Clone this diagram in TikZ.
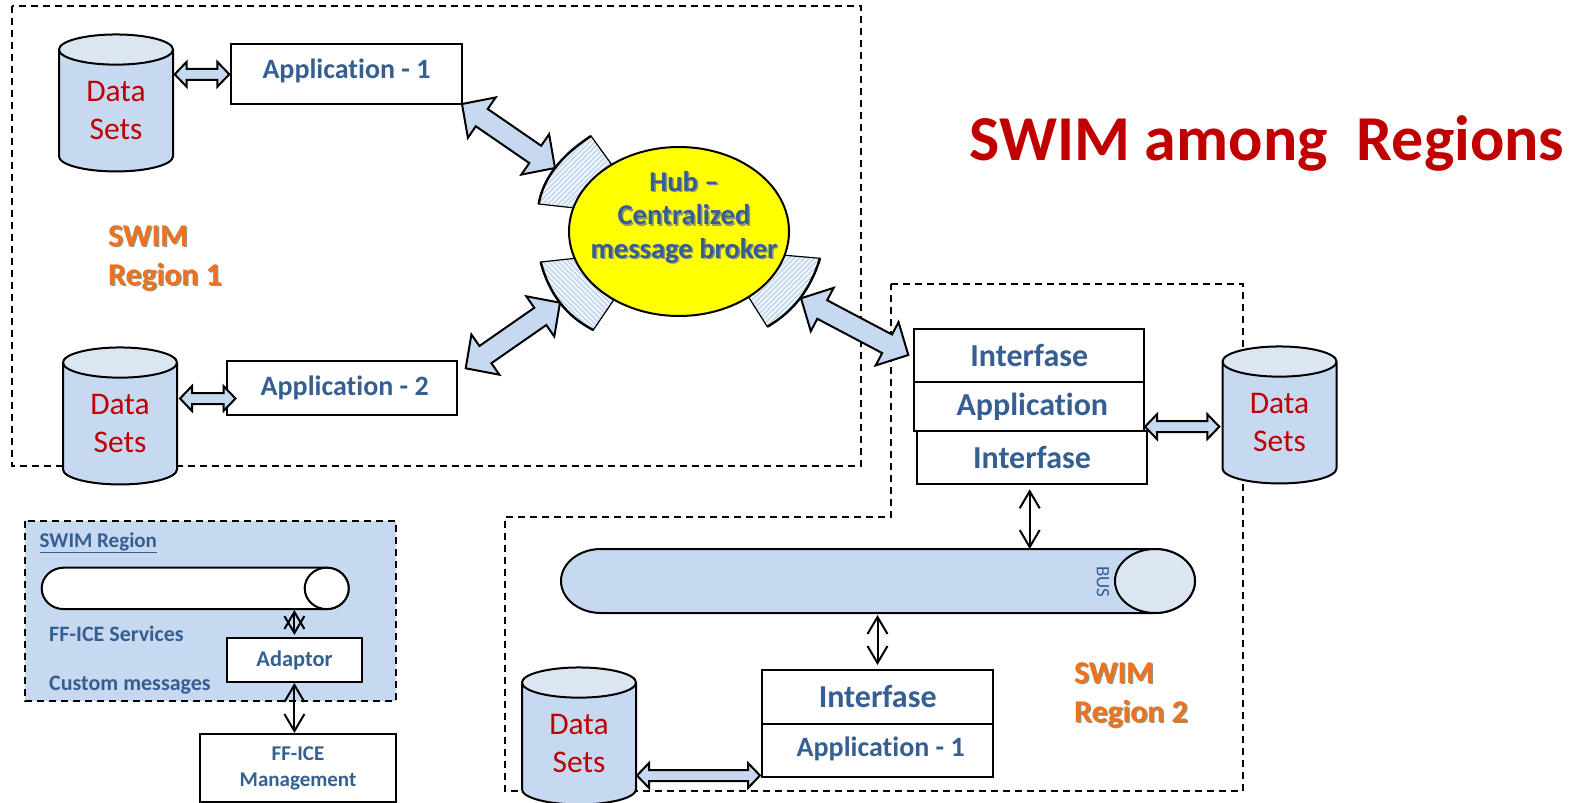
\documentclass[tikz,border=0pt]{standalone}
\usepackage{fontspec}
\setmainfont{Carlito}[Ligatures=NoCommon]
\definecolor{myblue}{RGB}{54,95,145}
\definecolor{myred}{RGB}{192,0,0}
\definecolor{myorange}{RGB}{240,112,30}
\definecolor{myfill}{RGB}{198,217,241}
\definecolor{mycap}{RGB}{220,230,242}
\definecolor{myyellow}{RGB}{255,255,0}
\definecolor{myshadow}{RGB}{150,150,120}
\usetikzlibrary{positioning,calc,shapes.geometric,arrows.meta,patterns.meta}

\begin{document}
\begin{tikzpicture}[x=1pt,y=-1pt,
    datanode/.style={draw,line width=2pt,cylinder,shape border rotate=90,aspect=0.508,
      cylinder uses custom fill,cylinder body fill=myfill,cylinder end fill=mycap,
      minimum width=114,minimum height=137,inner sep=0pt,outer sep=0pt,align=center,
      text=myred,font=\fontsize{31.5}{38}\selectfont},
    capnode/.style={draw,line width=2pt,ellipse,inner sep=0pt,outer sep=0pt},
    boxnode/.style={draw,line width=2pt,fill=white,inner sep=0pt,outer sep=0pt,align=center,
      text=myblue,font=\bfseries\fontsize{28}{32}\selectfont},
    labelnode/.style={inner sep=0pt,text=myblue,font=\bfseries\fontsize{22}{26}\selectfont},
    hubtext/.style={inner sep=0pt,align=center,font=\bfseries\fontsize{28.6}{33.4}\selectfont},
    regiontext/.style={inner sep=0pt,align=left,font=\bfseries\fontsize{31.7}{39}\selectfont},
    regionline/.style={line width=1.6pt,dash pattern=on 7pt off 5pt},
    sector/.style={line width=1.2pt,pattern={Lines[angle=#1,distance=3.6pt,line width=2.1pt]},
      pattern color=myfill},
    thinarrow/.style={line width=2pt,{Straight Barb[length=17pt,width=20pt,line width=2pt]}-{Straight Barb[length=17pt,width=20pt,line width=2pt]}},
    blockarrow/.style n args={3}{draw,line width=2pt,fill=myfill,
      to path={
        -- ($($(\tikztostart)!#3!(\tikztotarget)$)!#2!90:(\tikztotarget)$)
        -- ($($(\tikztostart)!#3!(\tikztotarget)$)!#1!90:(\tikztotarget)$)
        -- ($($(\tikztotarget)!#3!(\tikztostart)$)!#1!-90:(\tikztostart)$)
        -- ($($(\tikztotarget)!#3!(\tikztostart)$)!#2!-90:(\tikztostart)$)
        -- (\tikztotarget)
        -- ($($(\tikztotarget)!#3!(\tikztostart)$)!#2!90:(\tikztostart)$)
        -- ($($(\tikztotarget)!#3!(\tikztostart)$)!#1!90:(\tikztostart)$)
        -- ($($(\tikztostart)!#3!(\tikztotarget)$)!#1!-90:(\tikztotarget)$)
        -- ($($(\tikztostart)!#3!(\tikztotarget)$)!#2!-90:(\tikztotarget)$)
        -- cycle}},
    bigarrow/.style={blockarrow={10.5pt}{24.5pt}{24pt}},
    smallarrow/.style={blockarrow={5.5pt}{12.5pt}{12pt}}
    ]
    \useasboundingbox (0,0) rectangle (1585,803);

    % the regions
    \draw[regionline] (12,6) rectangle (861,466);
    \draw[regionline] (891,284) -- (1243,284) -- (1243,791) -- (505,791) -- (505,517) -- (891,517) -- cycle;
    \draw[regionline,fill=myfill] (25,521) rectangle (396,701);

    % the title
    \node[inner sep=0pt,text=myred,font=\bfseries\fontsize{64}{70}\selectfont] (title) at (1267,143) {SWIM among\ \ Regions};

    % the sectors round the hub
    \draw[sector=45] (538.7,204) .. controls (543,178.7) and (560.4,156) .. (591,136) -- (612,165) -- (575,208) -- cycle;
    \draw[line width=2.4pt] (538.7,204) .. controls (543,178.7) and (560.4,156) .. (591,136);
    \draw[sector=-45] (540.7,262) .. controls (548.9,293.6) and (566.4,316.3) .. (593.3,330) -- (615,298) -- (578,258) -- cycle;
    \draw[line width=2.4pt] (540.7,262) .. controls (548.9,293.6) and (566.4,316.3) .. (593.3,330);
    \draw[sector=45] (820,258.3) .. controls (810.9,288.8) and (793.3,311.7) .. (767.3,326.7) -- (746,293) -- (782,255) -- cycle;
    \draw[line width=2.4pt] (820,258.3) .. controls (810.9,288.8) and (793.3,311.7) .. (767.3,326.7);

    % the hub
    \node[draw,line width=2pt,ellipse,fill=myyellow,minimum width=220,minimum height=169,inner sep=0pt,outer sep=0pt] (hub) at (679,231.5) {};
    \node[hubtext,text=myshadow] (hubshadow) at (685.5,218.5) {Hub --\\Centralized\\message broker};
    \node[hubtext,text=myblue] (hubtext) at (684,217) {Hub --\\Centralized\\message broker};

    % the applications
    \node[boxnode,minimum width=231,minimum height=60] (app1) at (346.5,74) {\raisebox{10pt}{Application - 1}};
    \node[boxnode,minimum width=230,minimum height=54] (app2) at (341.7,388) {\hspace*{6pt}\raisebox{2pt}{Application - 2}};
    \node[boxnode,minimum width=230,minimum height=53,font=\bfseries\fontsize{32}{36}\selectfont] (int1) at (1029.3,355.5) {Interfase};
    \node[boxnode,minimum width=230,minimum height=49,font=\bfseries\fontsize{32}{36}\selectfont] (app3) at (1029.3,406.5) {\hspace*{6pt}Application};
    \node[boxnode,minimum width=230.6,minimum height=53,font=\bfseries\fontsize{32}{36}\selectfont] (int2) at (1032,457.5) {Interfase};
    \node[boxnode,minimum width=230.6,minimum height=54.5,font=\bfseries\fontsize{32}{36}\selectfont] (int3) at (877.7,697) {\raisebox{2pt}{Interfase}};
    \node[boxnode,minimum width=230.6,minimum height=52.5] (app4) at (877.7,750.5) {\hspace*{6pt}\raisebox{8pt}{Application - 1}};

    % the data sets
    \node[datanode] (ds1) at (116,111) {\raisebox{2pt}{Data}\\\raisebox{2pt}{Sets}};
    \node[datanode] (ds2) at (120,424) {\raisebox{2pt}{Data}\\\raisebox{2pt}{Sets}};
    \node[datanode] (ds3) at (1279.5,423) {\raisebox{2pt}{Data}\\\raisebox{2pt}{Sets}};
    \node[datanode] (ds4) at (579,744) {\raisebox{2pt}{Data}\\\raisebox{2pt}{Sets}};

    % the bus
    \draw[line width=2pt,fill=myfill] (601,549) -- (1155,549) arc[start angle=90,end angle=-90,x radius=40pt,y radius=32pt]
      -- (601,613) arc[start angle=270,end angle=90,x radius=40pt,y radius=32pt] -- cycle;
    \node[capnode,fill=mycap,minimum width=80,minimum height=64] (bus) at (1155,581) {};
    \node[inner sep=0pt,rotate=-90,text=myblue,font=\fontsize{19}{21}\selectfont] (buslabel) at (1103,582) {BUS};

    % the region texts
    \node[regiontext,text=myshadow,anchor=west] (r1shadow) at (109.5,259) {SWIM\\Region 1};
    \node[regiontext,text=myorange,anchor=west] (r1text) at (108,258) {SWIM\\Region 1};
    \node[regiontext,text=myshadow,anchor=west] (r2shadow) at (1075.5,696) {SWIM\\Region 2};
    \node[regiontext,text=myorange,anchor=west] (r2text) at (1074,695) {SWIM\\Region 2};

    % the small region
    \node[labelnode,font=\bfseries\fontsize{21}{24}\selectfont,anchor=west] (swimreg) at (39.5,543) {\underline{SWIM Region}};
    \draw[line width=2pt,fill=white] (63.7,567.7) -- (326.7,567.7) arc[start angle=90,end angle=-90,x radius=22pt,y radius=20.7pt]
      -- (63.7,609.1) arc[start angle=270,end angle=90,x radius=22pt,y radius=20.7pt] -- cycle;
    \node[capnode,fill=white,minimum width=44,minimum height=41.4] (pipe) at (326.7,588.4) {};
    \node[labelnode,anchor=west] (ffserv) at (49,634) {FF-ICE Services};
    \node[labelnode,anchor=west] (custom) at (49,685) {Custom messages};
    \node[boxnode,minimum width=134.4,minimum height=43.7,font=\bfseries\fontsize{22.4}{26}\selectfont] (adaptor) at (294.5,660) {Adaptor};
    \node[boxnode,minimum width=195.4,minimum height=67.4,font=\bfseries\fontsize{21}{26}\selectfont] (ffmgmt) at (298,768) {\raisebox{-9pt}{FF-ICE}\\\raisebox{-9pt}{Management}};

    % the ends of the arrows
    \coordinate (hubnw) at (555,168);
    \coordinate (hubsw) at (560,302.7);
    \coordinate (hubse) at (801,298.3);
    \coordinate (app2ne) at (465.7,368.3);
    \coordinate (int1w) at (908.3,355);
    \coordinate (ds1e) at (174.7,74.3);
    \coordinate (app1w) at (229.3,74.3);
    \coordinate (ds2e) at (180,398.5);
    \coordinate (app2w) at (235.5,398.5);
    \coordinate (app3e) at (1145,426.7);
    \coordinate (ds3w) at (1219.3,426.7);
    \coordinate (ds4e) at (637,775.5);
    \coordinate (app4w) at (760,775.5);
    \coordinate (int2s) at (1029.7,489.3);
    \coordinate (busn) at (1029.7,549);
    \coordinate (buss) at (877.5,615);
    \coordinate (int3n) at (877.5,665);
    \coordinate (pipes) at (294.4,610);
    \coordinate (adaptorn) at (294.4,635);
    \coordinate (adaptors) at (294.4,683);
    \coordinate (ffmgmtn) at (294.4,733);

    % the arrows
    \draw[bigarrow] (app1.south east) to (hubnw);
    \draw[bigarrow] (hubsw) to (app2ne);
    \draw[bigarrow] (hubse) to (int1w);
    \draw[smallarrow] (ds1e) to (app1w);
    \draw[smallarrow] (ds2e) to (app2w);
    \draw[smallarrow] (app3e) to (ds3w);
    \draw[smallarrow] (ds4e) to (app4w);
    \draw[thinarrow] (int2s) -- (busn);
    \draw[thinarrow] (buss) -- (int3n);
    \draw[thinarrow] (pipes) -- (adaptorn);
    \draw[thinarrow] (adaptors) -- (ffmgmtn);
\end{tikzpicture}
\end{document}
